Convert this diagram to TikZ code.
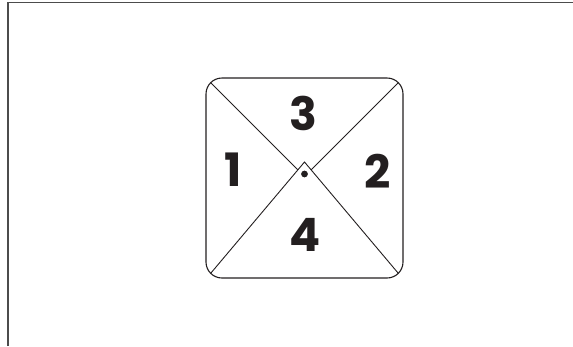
\documentclass[tikz,border=0pt]{standalone}
\usepackage{fontspec}
\newfontfamily\numfont{Poppins}[UprightFont=* Bold]
\definecolor{ink}{HTML}{231F20}
\begin{document}
\begin{tikzpicture}[x=1pt,y=-1pt,
  frameline/.style={line width=1.4pt,draw=black!70},
  diag/.style={line width=0.9pt,draw=ink},
  numlabel/.style={font=\numfont\fontsize{46}{46}\selectfont,text=ink,inner sep=0pt}]
\useasboundingbox (0,0) rectangle (573,346);
% partial outer frame
\coordinate (fTL) at (8,2.5);
\coordinate (fTR) at (573,2.5);
\coordinate (fBL) at (8,346);
\draw[frameline] (fBL) -- (fTL) -- (fTR);
% rounded square
\node[draw=ink,line width=1.1pt,rounded corners=16pt,minimum width=197pt,minimum height=200pt,inner sep=0pt] (sq) at (304.5,178) {};
% corner points on the arcs
\coordinate (cTL) at (210.7,82.7);
\coordinate (cTR) at (398.3,82.7);
\coordinate (cBL) at (210.7,273.3);
\coordinate (cBR) at (398.3,273.3);
\coordinate (apex) at (304.5,162);
\coordinate (cross) at (304.5,176.5);
\draw[diag] (cBL) -- (apex) -- (cBR);
\draw[diag] (cTL) -- (intersection of cTL--cross and apex--cBL);
\draw[diag] (cTR) -- (intersection of cTR--cross and apex--cBR);
\fill[ink] (304.5,174) circle (3.4pt) coordinate (dot);
% labels
\node[numlabel] (n3) at (303,113) {3};
\node[numlabel] (n1) at (233,170) {1};
\node[numlabel] (n2) at (378,171.5) {2};
\node[numlabel] (n4) at (305,235) {4};
\end{tikzpicture}
\end{document}
